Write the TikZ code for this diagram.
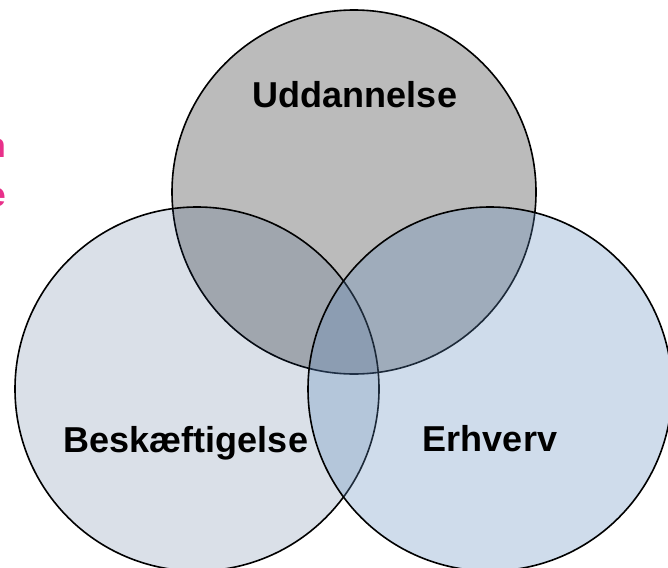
\documentclass[tikz,border=0pt]{standalone}
\usepackage{fontspec}
\setmainfont{Liberation Sans}
\definecolor{topfill}{RGB}{187,187,187}
\definecolor{leftfill}{RGB}{25,62,112}
\definecolor{rightfill}{RGB}{95,138,188}
\definecolor{pinktext}{RGB}{232,48,138}
\tikzset{
  venn/.style={draw=black, line width=1.6pt},
  lbl/.style={anchor=base, inner sep=0pt, font=\bfseries\fontsize{36}{42}\selectfont, text=black},
  pinklbl/.style={anchor=base east, inner sep=0pt, font=\bfseries\fontsize{34}{40}\selectfont, text=pinktext}
}
\begin{document}
\begin{tikzpicture}[x=1pt,y=-1pt]
\useasboundingbox (0,0) rectangle (668,567);
% cut-off pink text at the left edge
\node[pinklbl] (p1) at (6,157) {n};
\node[pinklbl] (p2) at (6,206) {e};
% circles
\path[venn, fill=topfill] (354,192) circle[radius=182];
\path[venn, fill=leftfill, fill opacity=0.16] (197,389) circle[radius=182];
\path[venn, fill=rightfill, fill opacity=0.30] (490,389) circle[radius=182];
% labels
\node[lbl] (udd) at (355,107) {Uddannelse};
\node[lbl] (besk) at (186,452) {Beskæftigelse};
\node[lbl] (erh) at (490,451) {Erhverv};
\end{tikzpicture}
\end{document}
